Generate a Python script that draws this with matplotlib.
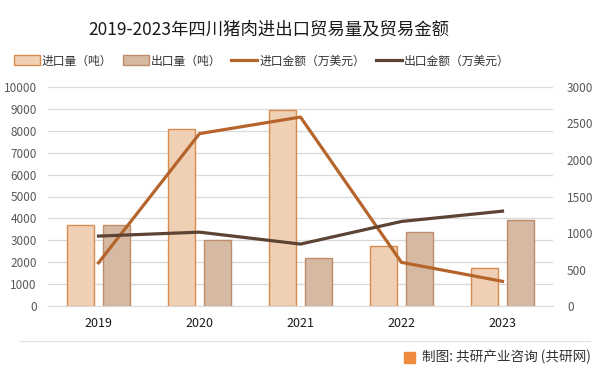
import matplotlib
matplotlib.use("Agg")
import matplotlib.pyplot as plt
import numpy as np
from matplotlib.patches import Patch, Rectangle
from matplotlib.lines import Line2D

plt.rcParams["font.family"] = ["Noto Sans CJK SC", "DejaVu Sans"]

years = ["2019", "2020", "2021", "2022", "2023"]
import_qty = [3690, 8060, 8925, 2730, 1730]    # 进口量（吨）
export_qty = [3690, 3005, 2185, 3370, 3915]    # 出口量（吨）
import_amt = [594, 2359, 2585, 600, 341]       # 进口金额（万美元）
export_amt = [959, 1013, 850, 1159, 1300]      # 出口金额（万美元）

c_imp_bar = "#F0D0B5"
c_imp_edge = "#D98A4E"
c_exp_bar = "#D6B9A3"
c_exp_edge = "#BE8C6C"
c_imp_line = "#B5652B"
c_exp_line = "#5C4334"

fig = plt.figure(figsize=(6.01, 3.74), dpi=100)
ax = fig.add_axes([48 / 601, 67.7 / 374, 505 / 601, 219.6 / 374])
ax2 = ax.twinx()

x = np.arange(len(years))
w = 0.27
ax.bar(x - 0.175, import_qty, w, color=c_imp_bar, edgecolor=c_imp_edge, linewidth=1)
ax.bar(x + 0.175, export_qty, w, color=c_exp_bar, edgecolor=c_exp_edge, linewidth=1)

ax2.plot(x, import_amt, color=c_imp_line, linewidth=2.3)
ax2.plot(x, export_amt, color=c_exp_line, linewidth=2.3)

ax.set_xlim(-0.5, 4.5)
ax.set_ylim(0, 10000)
ax.set_yticks(np.arange(0, 10001, 1000))
ax2.set_ylim(0, 3000)
ax2.set_yticks(np.arange(0, 3001, 500))
ax.set_xticks(x)
ax.set_xticklabels(years)

ax.grid(axis="y", color="#D9D9D9", linewidth=0.9)
ax.set_axisbelow(True)
for a in (ax, ax2):
    for s in a.spines.values():
        s.set_visible(False)
ax.spines["bottom"].set_visible(True)
ax.spines["bottom"].set_color("#D9D9D9")
ax.tick_params(axis="y", length=0, labelsize=8.5, labelcolor="#595959", pad=8)
ax2.tick_params(axis="y", length=0, labelsize=8.5, labelcolor="#595959", pad=10)
ax.tick_params(axis="x", length=0, labelsize=9, labelcolor="#1a1a1a", pad=8)

fig.text(0.448, 0.922, "2019-2023年四川猪肉进出口贸易量及贸易金额",
         ha="center", va="center", fontsize=12.5, color="#1a1a1a")

handles = [
    Patch(facecolor=c_imp_bar, edgecolor=c_imp_edge),
    Patch(facecolor=c_exp_bar, edgecolor=c_exp_edge),
    Line2D([], [], color=c_imp_line, linewidth=2.3),
    Line2D([], [], color=c_exp_line, linewidth=2.3),
]
labels = ["进口量（吨）", "出口量（吨）", "进口金额（万美元）", "出口金额（万美元）"]
fig.legend(handles, labels, loc="center", bbox_to_anchor=(0.435, 0.837), ncol=4,
           frameon=False, fontsize=8.5, handlelength=2.2, handleheight=0.9,
           handletextpad=0.15, columnspacing=0.9, labelcolor="#333333")

# footer
fig.add_artist(Line2D([20 / 601, 590 / 601], [1 - 341 / 374] * 2,
                      color="#E0E0E0", linewidth=0.8, transform=fig.transFigure))
fig.add_artist(Rectangle((404 / 601, 1 - 363 / 374), 11 / 601, 11 / 374,
                         color="#F08A3C", transform=fig.transFigure))
fig.text(422 / 601, 1 - 357 / 374, "制图: 共研产业咨询 (共研网)",
         ha="left", va="center", fontsize=9.8, color="#333333")

fig.savefig("out.png", dpi=100)
